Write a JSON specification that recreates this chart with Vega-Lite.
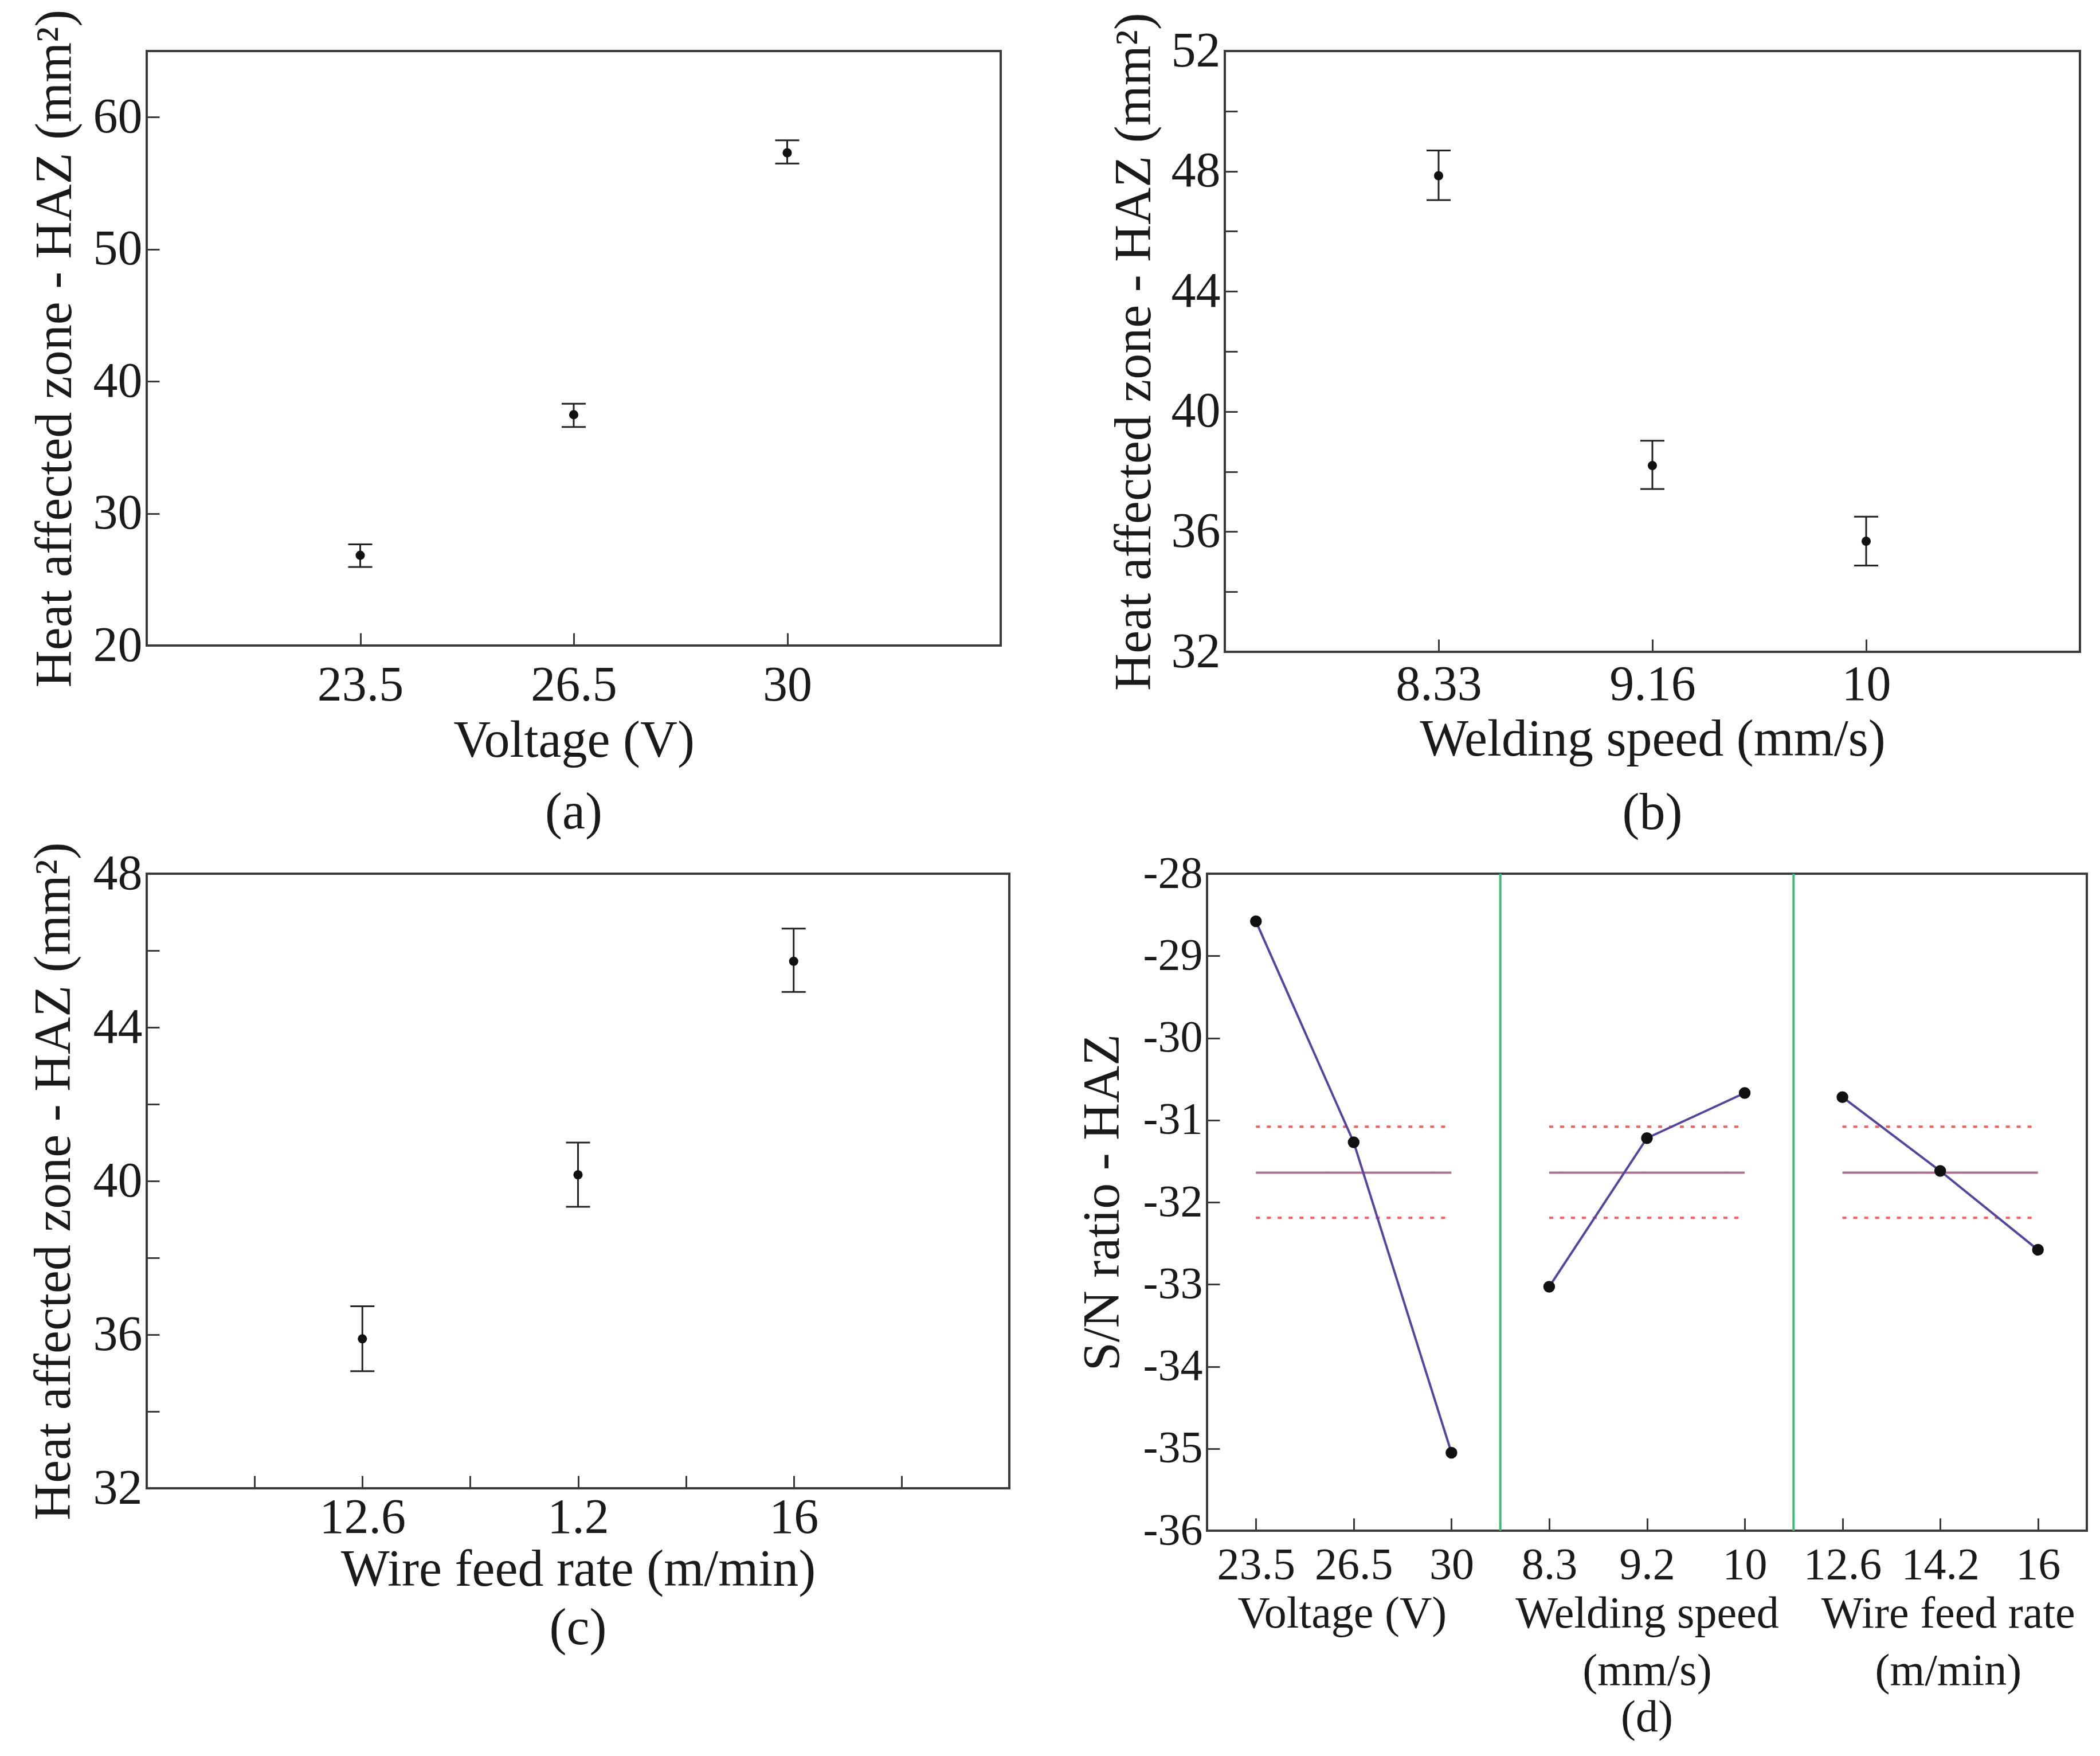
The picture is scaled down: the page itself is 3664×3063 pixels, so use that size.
{
  "$schema": "https://vega.github.io/schema/vega-lite/v6.json",
  "background": "white",
  "padding": {"left": 46, "top": 14, "right": 10, "bottom": 10},
  "config": {
    "font": "Liberation Serif",
    "view": {"stroke": "#3a3a3a", "strokeWidth": 4},
    "axis": {
      "grid": false,
      "domain": false,
      "labelFont": "Liberation Serif",
      "titleFont": "Liberation Serif",
      "labelColor": "#1a1a1a",
      "titleColor": "#1a1a1a",
      "titleFontWeight": "normal",
      "tickColor": "#3a3a3a",
      "tickWidth": 3,
      "tickSize": -22,
      "labelFontSize": 86,
      "titleFontSize": 90,
      "labelLimit": 2000
    },
    "axisY": {"labelPadding": 30},
    "title": {"font": "Liberation Serif", "fontWeight": "normal", "color": "#1a1a1a", "fontSize": 90, "orient": "bottom", "frame": "group"}
  },
  "spacing": 0,
  "vconcat": [
    {
      "spacing": 183,
      "hconcat": [
        {
          "width": 1490, "height": 1037,
          "title": {"text": "(a)", "offset": 37},
          "data": {"values": [
            {"voltage": "23.5", "level": 1, "haz": 26.83, "lo": 25.95, "hi": 27.66},
            {"voltage": "26.5", "level": 2, "haz": 37.47, "lo": 36.54, "hi": 38.3},
            {"voltage": "30", "level": 3, "haz": 57.3, "lo": 56.48, "hi": 58.24}
          ]},
          "encoding": {
            "x": {"field": "level", "type": "quantitative", "scale": {"domain": [0, 4]},
              "axis": {"title": "Voltage (V)", "values": [1, 2, 3], "labelPadding": 49, "titlePadding": 10,
                "labelExpr": "datum.value == 1 ? '23.5' : datum.value == 2 ? '26.5' : '30'"}}
          },
          "layer": [
            {"mark": {"type": "rule", "color": "#222", "strokeWidth": 3},
             "encoding": {
               "y": {"field": "lo", "type": "quantitative", "scale": {"domain": [20, 65]},
                 "axis": {"title": "Heat affected zone - HAZ (mm²)", "values": [20, 30, 40, 50, 60], "titlePadding": 20,
                   "labelExpr": "'' + datum.value"}},
               "y2": {"field": "hi"}}},
            {"mark": {"type": "rule", "color": "#222", "strokeWidth": 3, "xOffset": -21, "x2Offset": 21},
             "encoding": {"x2": {"field": "level"}, "y": {"field": "lo", "type": "quantitative"}}},
            {"mark": {"type": "rule", "color": "#222", "strokeWidth": 3, "xOffset": -21, "x2Offset": 21},
             "encoding": {"x2": {"field": "level"}, "y": {"field": "hi", "type": "quantitative"}}},
            {"mark": {"type": "point", "filled": true, "color": "#111", "size": 260, "opacity": 1},
             "encoding": {"y": {"field": "haz", "type": "quantitative"}}}
          ]
        },
        {
          "width": 1492, "height": 1048,
          "title": {"text": "(b)", "offset": 40},
          "data": {"values": [
            {"speed": "8.33", "level": 1, "haz": 47.85, "lo": 47.04, "hi": 48.69},
            {"speed": "9.16", "level": 2, "haz": 38.2, "lo": 37.42, "hi": 39.03},
            {"speed": "10", "level": 3, "haz": 35.68, "lo": 34.87, "hi": 36.5}
          ]},
          "encoding": {
            "x": {"field": "level", "type": "quantitative", "scale": {"domain": [0, 4]},
              "axis": {"title": "Welding speed (mm/s)", "values": [1, 2, 3], "labelPadding": 37, "titlePadding": 9,
                "labelExpr": "datum.value == 1 ? '8.33' : datum.value == 2 ? '9.16' : '10'"}}
          },
          "layer": [
            {"mark": {"type": "rule", "color": "#222", "strokeWidth": 3},
             "encoding": {
               "y": {"field": "lo", "type": "quantitative", "scale": {"domain": [32, 52]},
                 "axis": {"title": "Heat affected zone - HAZ (mm²)", "values": [32, 34, 36, 38, 40, 42, 44, 46, 48, 50, 52], "titlePadding": 18,
                   "labelExpr": "datum.value % 4 == 0 ? '' + datum.value : ''"}},
               "y2": {"field": "hi"}}},
            {"mark": {"type": "rule", "color": "#222", "strokeWidth": 3, "xOffset": -21, "x2Offset": 21},
             "encoding": {"x2": {"field": "level"}, "y": {"field": "lo", "type": "quantitative"}}},
            {"mark": {"type": "rule", "color": "#222", "strokeWidth": 3, "xOffset": -21, "x2Offset": 21},
             "encoding": {"x2": {"field": "level"}, "y": {"field": "hi", "type": "quantitative"}}},
            {"mark": {"type": "point", "filled": true, "color": "#111", "size": 260, "opacity": 1},
             "encoding": {"y": {"field": "haz", "type": "quantitative"}}}
          ]
        }
      ]
    },
    {
      "spacing": 114,
      "hconcat": [
        {
          "width": 1505, "height": 1072,
          "title": {"text": "(c)", "offset": 14},
          "data": {"values": [
            {"rate": "12.6", "level": 1, "haz": 35.89, "lo": 35.05, "hi": 36.74},
            {"rate": "1.2", "level": 2, "haz": 40.16, "lo": 39.33, "hi": 41.0},
            {"rate": "16", "level": 3, "haz": 45.72, "lo": 44.92, "hi": 46.57}
          ]},
          "encoding": {
            "x": {"field": "level", "type": "quantitative", "scale": {"domain": [0, 4]},
              "axis": {"title": "Wire feed rate (m/min)", "values": [0.5, 1, 1.5, 2, 2.5, 3, 3.5], "labelPadding": 31, "titlePadding": 4,
                "labelExpr": "datum.value == 1 ? '12.6' : datum.value == 2 ? '1.2' : datum.value == 3 ? '16' : ''"}}
          },
          "layer": [
            {"mark": {"type": "rule", "color": "#222", "strokeWidth": 3},
             "encoding": {
               "y": {"field": "lo", "type": "quantitative", "scale": {"domain": [32, 48]},
                 "axis": {"title": "Heat affected zone - HAZ (mm²)", "values": [32, 34, 36, 38, 40, 42, 44, 46, 48], "titlePadding": 22,
                   "labelExpr": "datum.value % 4 == 0 ? '' + datum.value : ''"}},
               "y2": {"field": "hi"}}},
            {"mark": {"type": "rule", "color": "#222", "strokeWidth": 3, "xOffset": -21, "x2Offset": 21},
             "encoding": {"x2": {"field": "level"}, "y": {"field": "lo", "type": "quantitative"}}},
            {"mark": {"type": "rule", "color": "#222", "strokeWidth": 3, "xOffset": -21, "x2Offset": 21},
             "encoding": {"x2": {"field": "level"}, "y": {"field": "hi", "type": "quantitative"}}},
            {"mark": {"type": "point", "filled": true, "color": "#111", "size": 260, "opacity": 1},
             "encoding": {"y": {"field": "haz", "type": "quantitative"}}}
          ]
        },
        {
          "width": 1535, "height": 1146,
          "title": {"text": "(d)", "offset": 4, "fontSize": 78},
          "resolve": {"axis": {"x": "independent"}},
          "layer": [
            {
              "data": {"values": [{"sep": 3.5}, {"sep": 6.5}]},
              "mark": {"type": "rule", "color": "#44b878", "strokeWidth": 4},
              "encoding": {
                "x": {"field": "sep", "type": "quantitative", "scale": {"domain": [0.5, 9.5], "nice": false},
                  "axis": {"title": null, "orient": "bottom", "values": [1.88, 5, 8.08], "ticks": false, "tickSize": 0, "labelPadding": 106,
                    "labelFontSize": 78, "labelLineHeight": 100, "labelBaseline": "top",
                    "labelExpr": "datum.value < 3 ? ['Voltage (V)'] : datum.value < 6 ? ['Welding speed', '(mm/s)'] : ['Wire feed rate', '(m/min)']"}}
              }
            },
            {
              "data": {"values": [
                {"factor": "Voltage", "from": 1, "to": 3, "line": "mean", "sn": -31.64},
                {"factor": "Voltage", "from": 1, "to": 3, "line": "upper", "sn": -31.08},
                {"factor": "Voltage", "from": 1, "to": 3, "line": "lower", "sn": -32.19},
                {"factor": "Welding speed", "from": 4, "to": 6, "line": "mean", "sn": -31.64},
                {"factor": "Welding speed", "from": 4, "to": 6, "line": "upper", "sn": -31.08},
                {"factor": "Welding speed", "from": 4, "to": 6, "line": "lower", "sn": -32.19},
                {"factor": "Wire feed rate", "from": 7, "to": 9, "line": "mean", "sn": -31.64},
                {"factor": "Wire feed rate", "from": 7, "to": 9, "line": "upper", "sn": -31.08},
                {"factor": "Wire feed rate", "from": 7, "to": 9, "line": "lower", "sn": -32.19}
              ]},
              "mark": {"type": "rule", "strokeWidth": 4},
              "encoding": {
                "x": {"field": "from", "type": "quantitative", "scale": {"domain": [0.5, 9.5], "nice": false},
                  "axis": {"title": null, "orient": "bottom", "values": [1, 2, 3, 4, 5, 6, 7, 8, 9], "labelPadding": 43, "labelFontSize": 78,
                    "labelExpr": "['', '23.5', '26.5', '30', '8.3', '9.2', '10', '12.6', '14.2', '16'][datum.value]"}},
                "x2": {"field": "to"},
                "y": {"field": "sn", "type": "quantitative", "scale": {"domain": [-36, -28]},
                  "axis": {"title": "S/N ratio - HAZ", "values": [-36, -35, -34, -33, -32, -31, -30, -29, -28], "labelFontSize": 78, "titlePadding": 24,
                    "labelExpr": "'' + datum.value"}},
                "color": {"field": "line", "type": "nominal", "legend": null,
                  "scale": {"domain": ["mean", "upper", "lower"], "range": ["#b0708f", "#ff5a5a", "#ff5a5a"]}},
                "strokeDash": {"field": "line", "type": "nominal", "legend": null,
                  "scale": {"domain": ["mean", "upper", "lower"], "range": [[1, 0], [7, 12], [7, 12]]}}
              }
            },
            {
              "data": {"name": "sn"},
              "mark": {"type": "line", "color": "#5544a0", "strokeWidth": 4},
              "encoding": {
                "x": {"field": "level", "type": "quantitative", "scale": {"domain": [0.5, 9.5], "nice": false}, "axis": null},
                "y": {"field": "sn", "type": "quantitative"},
                "detail": {"field": "factor"}
              }
            },
            {
              "data": {"name": "sn"},
              "mark": {"type": "point", "filled": true, "color": "#111", "size": 420, "opacity": 1},
              "encoding": {
                "x": {"field": "level", "type": "quantitative", "scale": {"domain": [0.5, 9.5], "nice": false}, "axis": null},
                "y": {"field": "sn", "type": "quantitative"}
              }
            }
          ]
        }
      ]
    }
  ],
  "datasets": {
    "sn": [
      {"factor": "Voltage (V)", "setting": "23.5", "level": 1, "sn": -28.58},
      {"factor": "Voltage (V)", "setting": "26.5", "level": 2, "sn": -31.27},
      {"factor": "Voltage (V)", "setting": "30", "level": 3, "sn": -35.05},
      {"factor": "Welding speed (mm/s)", "setting": "8.3", "level": 4, "sn": -33.03},
      {"factor": "Welding speed (mm/s)", "setting": "9.2", "level": 5, "sn": -31.22},
      {"factor": "Welding speed (mm/s)", "setting": "10", "level": 6, "sn": -30.67},
      {"factor": "Wire feed rate (m/min)", "setting": "12.6", "level": 7, "sn": -30.72},
      {"factor": "Wire feed rate (m/min)", "setting": "14.2", "level": 8, "sn": -31.62},
      {"factor": "Wire feed rate (m/min)", "setting": "16", "level": 9, "sn": -32.58}
    ]
  }
}
